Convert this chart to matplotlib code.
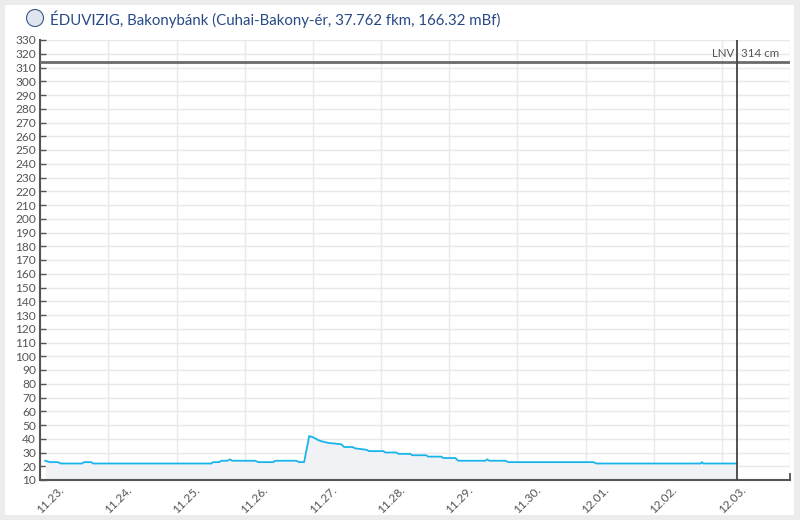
import matplotlib
matplotlib.use("Agg")
import matplotlib.pyplot as plt
import matplotlib.transforms as mtrans
from matplotlib.patches import Rectangle, Ellipse
import numpy as np

plt.rcParams['font.family'] = ['Lato', 'DejaVu Sans']

# ---- data (hours since 11.23. 00:00, water level in cm) ----
hours = [1.7, 3.4, 6.2, 7.3, 14.7, 15.4, 17.9, 18.6, 60.2, 60.9, 63.0, 63.7, 65.8, 66.8,
         67.6, 75.7, 76.7, 82.0, 82.7, 90.1, 91.2, 92.9, 94.7, 96.1, 97.9, 99.3, 101.4,
         106.0, 107.0, 109.9, 110.9, 114.8, 115.8, 120.8, 121.5, 125.4, 126.1, 130.3,
         131.0, 135.9, 136.6, 141.2, 141.9, 146.1, 147.2, 156.7, 157.4, 158.1, 163.8,
         164.8, 194.8, 195.8, 232.5, 233.0, 233.5, 245.4]
levels = [24, 23, 23, 22, 22, 23, 23, 22, 22, 23, 23, 24, 24, 25,
          24, 24, 23, 23, 24, 24, 23, 23, 42, 41, 39, 38, 37,
          36, 34, 34, 33, 32, 31, 31, 30, 30, 29, 29,
          28, 28, 27, 27, 26, 26, 24, 24, 25, 24, 24,
          23, 23, 22, 22, 23, 22, 22]
day_labels = ['11.23.', '11.24.', '11.25.', '11.26.', '11.27.', '11.28.', '11.29.',
              '11.30.', '12.01.', '12.02.', '12.03.']
lnv_value = 314
now_hour = 245.4
title = 'ÉDUVIZIG, Bakonybánk (Cuhai-Bakony-ér, 37.762 fkm, 166.32 mBf)'

W, H = 800, 520
fig = plt.figure(figsize=(W / 100, H / 100), dpi=100)
fig.patch.set_facecolor('#ececec')
fig.patches.append(Rectangle((5 / W, 5 / H), 789 / W, 510 / H, transform=fig.transFigure,
                             facecolor='white', edgecolor='none', zorder=-10))

ax = fig.add_axes([40.3 / W, (H - 480) / H, (790 - 40.3) / W, 440 / H])
ax.set_facecolor('none')
ax.set_xlim(0, 264)
ax.set_ylim(10, 330)

# grid
ax.set_yticks(np.arange(10, 331, 10))
ax.set_xticks(np.arange(0, 265, 24))
ax.grid(True, color='#e9e9e9', linewidth=1, zorder=0)
ax.set_axisbelow(True)

# data
ax.fill_between(hours, levels, 10, color='#f1f2f6', zorder=1, linewidth=0)
ax.plot(hours, levels, color='#19b5ea', linewidth=1.3, zorder=3)

# LNV line
ax.axhline(lnv_value, color='#6a6a6a', linewidth=2, zorder=4)
ax.axvline(now_hour, color='#444444', linewidth=1.3, zorder=4)
ax.text(now_hour - 1.2, lnv_value + 2.5, 'LNV', ha='right', va='bottom', fontsize=8.3,
        color='#555555', zorder=5)
ax.text(now_hour + 1.2, lnv_value + 2.5, f'{lnv_value} cm', ha='left', va='bottom',
        fontsize=8.3, color='#555555', zorder=5)

# spines
for s in ['top', 'right']:
    ax.spines[s].set_visible(False)
for s in ['left', 'bottom']:
    ax.spines[s].set_color('#555555')
    ax.spines[s].set_linewidth(1.5)

ax.tick_params(axis='y', direction='in', length=4, width=1, color='#555555',
               labelsize=8.6, labelcolor='#555555', pad=3)
ax.tick_params(axis='x', direction='in', length=5, width=1.3, color='#555555',
               labelbottom=False)

# rotated day labels
for i, lab in enumerate(day_labels):
    tr = mtrans.offset_copy(ax.get_xaxis_transform(), fig=fig, x=10, y=-20, units='dots')
    ax.text(i * 24, 0, lab, transform=tr, rotation=45, ha='center', va='center',
            fontsize=8.6, color='#555555', rotation_mode='anchor')

# title with small logo
fig.patches.append(Ellipse((35 / W, (H - 18) / H), 17 / W, 17 / H, transform=fig.transFigure,
                           facecolor='#dfe6ef', edgecolor='#3a5a8c', linewidth=0.8, zorder=2))
fig.text(50 / W, (H - 19) / H, title, ha='left', va='center', fontsize=10.8,
         color='#284a86')

fig.savefig('out.png', dpi=100, facecolor=fig.get_facecolor())
